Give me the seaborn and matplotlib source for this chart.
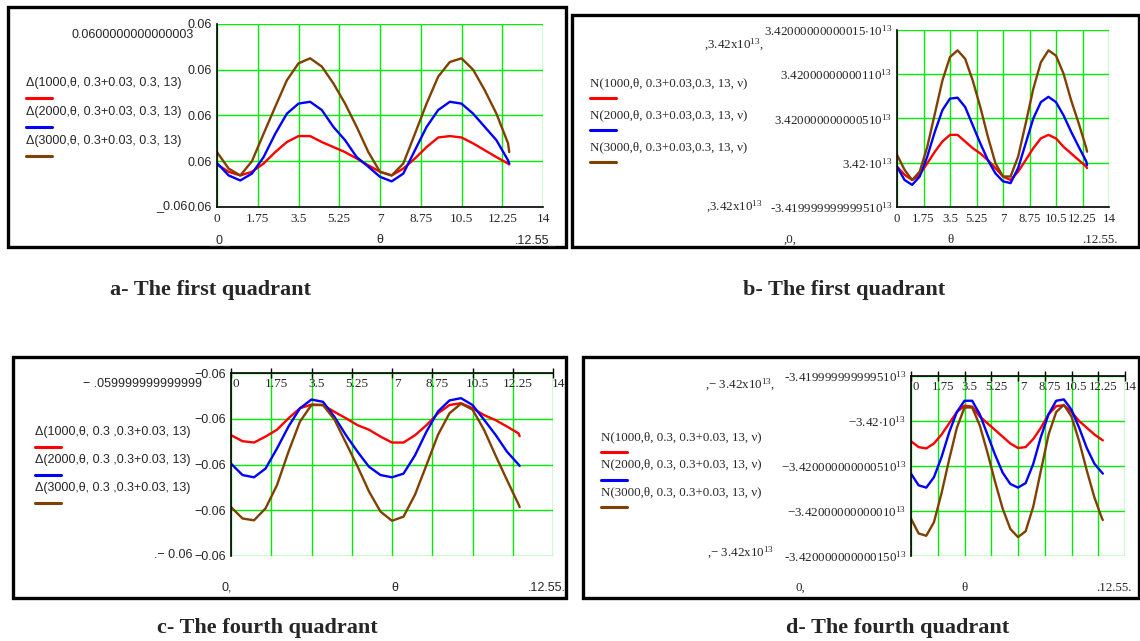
import matplotlib
matplotlib.use("Agg")
import matplotlib.pyplot as plt
import matplotlib.transforms as mtrans
from matplotlib.patches import Rectangle
import numpy as np
import pandas as pd
import seaborn as sns

# ---------------- data (in grid units: bottom gridline = 0, top = 4) -------------
theta = [0, 0.5, 1, 1.5, 2, 2.5, 3, 3.5, 4, 4.5, 5, 5.5, 6, 6.5, 7, 7.5, 8, 8.5, 9, 9.5,
         10, 10.5, 11, 11.5, 12, 12.5, 12.55]

a_red = [0.93, 0.77, 0.69, 0.77, 0.95, 1.2, 1.42, 1.55, 1.55, 1.42, 1.31, 1.2, 1.06, 0.91, 0.77, 0.69,
         0.84, 1.06, 1.31, 1.52, 1.55, 1.52, 1.39, 1.24, 1.09, 0.95, 0.93]
a_blue = [0.96, 0.69, 0.58, 0.73, 1.09, 1.6, 2.04, 2.26, 2.3, 2.12, 1.75, 1.46, 1.09, 0.88, 0.66, 0.56,
          0.73, 1.24, 1.75, 2.12, 2.3, 2.26, 2.04, 1.75, 1.46, 1.02, 0.95]
a_brown = [1.2, 0.84, 0.69, 1.0, 1.6, 2.19, 2.77, 3.14, 3.25, 3.07, 2.7, 2.26, 1.75, 1.2, 0.77, 0.69,
           0.95, 1.6, 2.26, 2.85, 3.17, 3.25, 3.0, 2.55, 2.04, 1.39, 1.2]

b_red = [0.91, 0.73, 0.61, 0.73, 0.99, 1.25, 1.48, 1.63, 1.63, 1.48, 1.33, 1.21, 1.06, 0.88, 0.69, 0.61,
         0.8, 1.06, 1.33, 1.55, 1.63, 1.55, 1.36, 1.21, 1.06, 0.91, 0.88]
b_blue = [0.91, 0.61, 0.5, 0.69, 1.14, 1.7, 2.19, 2.45, 2.47, 2.26, 1.85, 1.44, 1.06, 0.76, 0.58, 0.54,
          0.88, 1.44, 2.0, 2.37, 2.49, 2.37, 2.07, 1.7, 1.36, 1.03, 0.95]
b_brown = [1.18, 0.84, 0.61, 0.8, 1.36, 2.11, 2.86, 3.39, 3.54, 3.35, 2.86, 2.26, 1.59, 0.99, 0.69, 0.69,
           1.14, 1.89, 2.67, 3.27, 3.54, 3.42, 3.01, 2.41, 1.89, 1.33, 1.25]

c_red = [2.64, 2.51, 2.48, 2.61, 2.76, 3.01, 3.23, 3.31, 3.3, 3.15, 3.01, 2.86, 2.76, 2.61, 2.48, 2.48,
         2.64, 2.86, 3.12, 3.3, 3.34, 3.23, 3.08, 2.97, 2.83, 2.68, 2.62]
c_blue = [2.02, 1.77, 1.72, 1.91, 2.35, 2.83, 3.23, 3.42, 3.37, 3.04, 2.64, 2.28, 1.95, 1.77, 1.72, 1.8,
          2.2, 2.72, 3.16, 3.4, 3.45, 3.3, 2.98, 2.65, 2.28, 2.0, 1.97]
c_brown = [1.07, 0.82, 0.78, 1.04, 1.55, 2.28, 2.94, 3.3, 3.3, 2.98, 2.47, 1.96, 1.41, 0.97, 0.77, 0.86,
           1.34, 1.99, 2.65, 3.12, 3.33, 3.2, 2.76, 2.2, 1.66, 1.13, 1.07]

d_red = [2.55, 2.42, 2.39, 2.5, 2.7, 2.95, 3.2, 3.34, 3.32, 3.1, 2.95, 2.8, 2.65, 2.5, 2.4, 2.42,
         2.6, 2.85, 3.15, 3.33, 3.35, 3.2, 3.0, 2.85, 2.7, 2.58, 2.57]
d_blue = [1.83, 1.57, 1.52, 1.75, 2.2, 2.75, 3.2, 3.45, 3.45, 3.15, 2.7, 2.25, 1.85, 1.6, 1.52, 1.62,
          2.05, 2.65, 3.15, 3.45, 3.48, 3.25, 2.85, 2.4, 2.05, 1.85, 1.83]
d_brown = [0.83, 0.5, 0.45, 0.75, 1.4, 2.15, 2.85, 3.3, 3.3, 2.9, 2.3, 1.65, 1.05, 0.6, 0.42, 0.55,
           1.1, 1.9, 2.7, 3.2, 3.36, 3.1, 2.55, 1.9, 1.3, 0.83, 0.8]

x_ticks = [0, 1.75, 3.5, 5.25, 7, 8.75, 10.5, 12.25, 14]
x_ticklabels = ["0", "1.75", "3.5", "5.25", "7", "8.75", "10.5", "12.25", "14"]
y_levels = [0, 1, 2, 3, 4]

a_yticklabels = ["0.06", "0.06", "0.06", "0.06", "0.06"]
b_yticklabels = ["-3.419999999999510$^{13}$", "3.42$\\cdot$10$^{13}$", "3.420000000000510$^{13}$",
                 "3.42000000000110$^{13}$", "3.42000000000015$\\cdot$10$^{13}$"]
c_yticklabels = ["\u22120.06", "\u22120.06", "\u22120.06", "\u22120.06", "\u22120.06"]
d_yticklabels = ["-3.420000000000150$^{13}$", "\u22123.42000000000010$^{13}$", "\u22123.420000000000510$^{13}$",
                 "\u22123.42$\\cdot$10$^{13}$", "-3.419999999999510$^{13}$"]

a_legend = ["\u0394(1000,\u03b8, 0.3+0.03, 0.3, 13)", "\u0394(2000,\u03b8, 0.3+0.03, 0.3, 13)",
            "\u0394(3000,\u03b8, 0.3+0.03, 0.3, 13)"]
b_legend = ["N(1000,\u03b8, 0.3+0.03,0.3, 13, \u03bd)", "N(2000,\u03b8, 0.3+0.03,0.3, 13, \u03bd)",
            "N(3000,\u03b8, 0.3+0.03,0.3, 13, \u03bd)"]
c_legend = ["\u0394(1000,\u03b8, 0.3 ,0.3+0.03, 13)", "\u0394(2000,\u03b8, 0.3 ,0.3+0.03, 13)",
            "\u0394(3000,\u03b8, 0.3 ,0.3+0.03, 13)"]
d_legend = ["N(1000,\u03b8, 0.3, 0.3+0.03, 13, \u03bd)", "N(2000,\u03b8, 0.3, 0.3+0.03, 13, \u03bd)",
            "N(3000,\u03b8, 0.3, 0.3+0.03, 13, \u03bd)"]

captions = ["a- The first quadrant", "b- The first quadrant",
            "c- The fourth quadrant", "d- The fourth quadrant"]

# ---------------- style ----------------
sns.set_style("white")
plt.rcParams["font.family"] = ["Liberation Sans", "DejaVu Sans"]
plt.rcParams["mathtext.default"] = "regular"
plt.rcParams["axes.unicode_minus"] = False

W, H = 1140, 641
fig = plt.figure(figsize=(W / 100, H / 100), dpi=100)
fig.patch.set_facecolor("white")

COLORS = ["#ff0000", "#0000ff", "#804000"]
GRID = "#00ee00"
SANS = ["Liberation Sans", "DejaVu Sans"]
SERIF = ["Liberation Serif", "DejaVu Serif"]
FS = 9.0


def rect(x0, y0, x1, y1):
    return [x0 / W, 1 - y1 / H, (x1 - x0) / W, (y1 - y0) / H]


def ftext(x, y, s, **kw):
    kw.setdefault("va", "center")
    fig.text(x / W, 1 - y / H, s, **kw)


def border(x0, y0, x1, y1, lw=2.4):
    fig.patches.append(Rectangle((x0 / W, 1 - y1 / H), (x1 - x0) / W, (y1 - y0) / H,
                                 transform=fig.transFigure, fill=False, edgecolor="black",
                                 linewidth=lw, zorder=0))


def panel(box, series, legend, legend_xy, yticklabels, yfont, xfont, top_axis, fs=FS, xfs=FS):
    ax = fig.add_axes(rect(*box))
    names = ["s1", "s2", "s3"]
    df = pd.DataFrame({
        "theta": theta * 3,
        "value": series[0] + series[1] + series[2],
        "series": [n for n in names for _ in theta],
    })
    sns.lineplot(data=df, x="theta", y="value", hue="series", palette=COLORS,
                 ax=ax, legend=False, linewidth=1.7, sort=False)
    ax.set_xlim(0, 14)
    ax.set_ylim(0, 4)
    ax.set_xlabel("")
    ax.set_ylabel("")
    ax.set_facecolor("white")
    ax.set_xticks(x_ticks)
    ax.set_yticks(y_levels)
    ax.grid(True, color=GRID, linewidth=1.0)
    ax.set_axisbelow(True)
    for s in ax.spines.values():
        s.set_visible(False)
    ax.spines["left"].set_visible(True)
    ax.spines["left"].set_color("black")
    ax.spines["left"].set_linewidth(1.2)
    ax.set_yticklabels(yticklabels, fontsize=fs, family=yfont)
    ax.tick_params(axis="y", direction="inout", length=7, width=1, color="black", pad=0)
    if top_axis:
        ax.spines["top"].set_visible(True)
        ax.spines["top"].set_color("black")
        ax.spines["top"].set_linewidth(1.2)
        ax.xaxis.set_ticks_position("top")
        ax.tick_params(axis="x", direction="inout", length=7, width=1, color="black",
                       labeltop=False, labelbottom=False)
        tr = mtrans.offset_copy(ax.get_xaxis_transform(), fig=fig, x=5, y=-11, units="dots")
        for xv, lab in zip(x_ticks, x_ticklabels):
            ax.text(xv, 1, lab, transform=tr, ha="center", va="center", fontsize=xfs,
                    family=xfont, clip_on=False)
    else:
        ax.spines["bottom"].set_visible(True)
        ax.spines["bottom"].set_color("black")
        ax.spines["bottom"].set_linewidth(1.2)
        ax.set_xticklabels(x_ticklabels, fontsize=xfs, family=xfont)
        ax.tick_params(axis="x", direction="inout", length=7, width=1, color="black", pad=1)
    # legend built from text + short colored lines
    lx, ly, dy = legend_xy
    for i, (lab, col) in enumerate(zip(legend, COLORS)):
        ftext(lx, ly + i * dy, lab, fontsize=fs, family=yfont, ha="left")
        fig.add_artist(plt.Line2D([lx / W, (lx + 26) / W],
                                  [1 - (ly + i * dy + 15) / H] * 2,
                                  color=col, linewidth=2.2, transform=fig.transFigure))
    return ax


# ---------------- panels ----------------
border(8, 7, 566, 247)
border(572, 15, 1139, 247)
border(13, 357, 566, 598)
border(583, 357, 1139, 598)

panel((217, 24, 543, 207), (a_red, a_blue, a_brown), a_legend, (26, 83, 29),
      a_yticklabels, SANS, SERIF, False, xfs=9.5)
panel((897, 30, 1109, 207), (b_red, b_blue, b_brown), b_legend, (590, 83, 32),
      b_yticklabels, SERIF, SERIF, False, fs=9.4, xfs=9.2)
panel((231, 373, 553, 556), (c_red, c_blue, c_brown), c_legend, (35, 432, 28),
      c_yticklabels, SANS, SERIF, True, xfs=9.5)
panel((911, 376, 1125, 556), (d_red, d_blue, d_brown), d_legend, (601, 437, 27.5),
      d_yticklabels, SERIF, SERIF, True, fs=9.4, xfs=9.2)

# panel a extra labels
ftext(194, 35, "0.0600000000000003", fontsize=FS, family=SANS, ha="right")
ftext(188, 206, "_0.06", fontsize=FS, family=SANS, ha="right")
ftext(220, 240, "_0_", fontsize=FS, family=SANS, ha="center")
ftext(380, 240, "\u03b8", fontsize=FS, family=SANS, ha="center")
ftext(536, 240, ".12.55_", fontsize=FS, family=SANS, ha="center")

# panel b extra labels
ftext(734, 45, ",3.42x10$^{13}$,", fontsize=9.4, family=SERIF, ha="center")
ftext(734, 207, ",3.42x10$^{13}$", fontsize=9.4, family=SERIF, ha="center")
ftext(790, 240, ",0,", fontsize=9.4, family=SERIF, ha="center")
ftext(950, 240, "\u03b8", fontsize=9.4, family=SERIF, ha="center")
ftext(1100, 240, ".12.55.", fontsize=9.4, family=SERIF, ha="center")

# panel c extra labels
ftext(202, 384, "\u2212 .059999999999999", fontsize=FS, family=SANS, ha="right")
ftext(192, 555, ".\u2212 0.06", fontsize=FS, family=SANS, ha="right")
ftext(227, 588, "0,", fontsize=FS, family=SANS, ha="center")
ftext(395, 588, "\u03b8", fontsize=FS, family=SANS, ha="center")
ftext(547, 588, ".12.55.", fontsize=FS, family=SANS, ha="center")

# panel d extra labels
ftext(740, 385, ",\u2212 3.42x10$^{13}$,", fontsize=9.4, family=SERIF, ha="center")
ftext(740, 553, ",\u2212 3.42x10$^{13}$", fontsize=9.4, family=SERIF, ha="center")
ftext(800, 588, "0,", fontsize=9.4, family=SERIF, ha="center")
ftext(965, 588, "\u03b8", fontsize=9.4, family=SERIF, ha="center")
ftext(1114, 588, ".12.55.", fontsize=9.4, family=SERIF, ha="center")

# captions
for (cx, cy), cap in zip([(210, 290), (844, 290), (267, 628), (898, 628)], captions):
    ftext(cx, cy, cap, fontsize=16, family=SERIF, weight="bold", ha="center")

fig.savefig("out.png", dpi=100, facecolor="white")
